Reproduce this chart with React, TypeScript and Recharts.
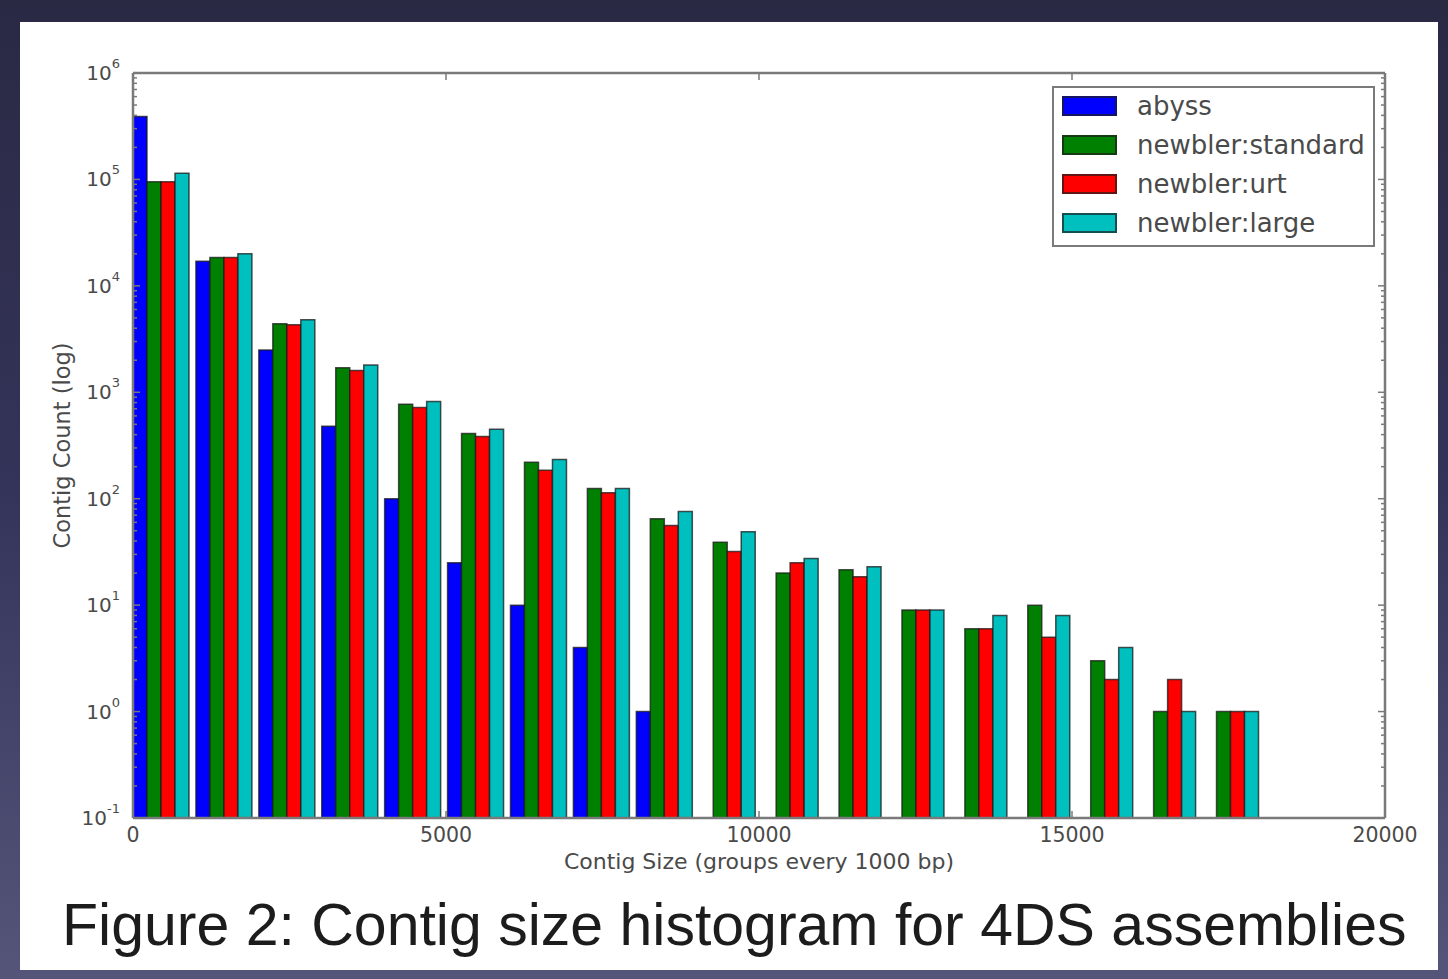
import React from 'react';
import { ComposedChart, Bar, XAxis, YAxis, Legend } from 'recharts';

// ---- data ----
const binIndex = [0, 1, 2, 3, 4, 5, 6, 7, 8, 9, 10, 11, 12, 13, 14, 15, 16, 17];
const BIN_WIDTH = 1005; // bp per histogram group
const abyss = [390000, 17000, 2500, 480, 100, 25, 10, 4, 1, null, null, null, null, null, null, null, null, null];
const newblerStandard = [95000, 18500, 4400, 1700, 770, 410, 220, 125, 65, 39, 20, 21.5, 9, 6, 10, 3, 1, 1];
const newblerUrt = [95000, 18500, 4300, 1600, 720, 385, 185, 114, 56, 32, 25, 18.5, 9, 6, 5, 2, 2, 1];
const newblerLarge = [114000, 20000, 4800, 1800, 820, 450, 234, 125, 76, 49, 27.5, 23, 9, 8, 8, 4, 1, 1];

const xTicks = [0, 5000, 10000, 15000, 20000];
const yMajor = [0.1, 1, 10, 100, 1000, 10000, 100000, 1000000];
const yMinor: number[] = [];
for (let k = -1; k <= 5; k++) for (let m = 2; m <= 9; m++) yMinor.push(m * Math.pow(10, k));
const yTicks = [...yMajor, ...yMinor].sort((a, b) => a - b);

const series = [
  { key: 'abyss', name: 'abyss', color: '#0000ff' },
  { key: 'standard', name: 'newbler:standard', color: '#008000' },
  { key: 'urt', name: 'newbler:urt', color: '#ff0000' },
  { key: 'large', name: 'newbler:large', color: '#00bfbf' },
];

const data = binIndex.map((i) => ({
  x: i * BIN_WIDTH + 0.43 * BIN_WIDTH,
  abyss: abyss[i],
  standard: newblerStandard[i],
  urt: newblerUrt[i],
  large: newblerLarge[i],
}));

const FONT = 'DejaVu Sans, sans-serif';
const SPINE = '#7a7a7a';
const TXT = '#4a4a4a';

const isMajor = (v: number) => Math.abs(Math.log10(v) - Math.round(Math.log10(v))) < 1e-9;

const YTickLeft = (props: any) => {
  const { x, y, payload } = props;
  const v = payload.value;
  const major = isMajor(v);
  const exp = Math.round(Math.log10(v));
  return (
    <g>
      <line x1={x} x2={x + (major ? 7 : 4)} y1={y} y2={y} stroke={SPINE} strokeWidth={1.5} />
      {major && (
        <text x={x - 13} y={y + 7} textAnchor="end" fontFamily={FONT} fontSize={20} fill={TXT}>
          10<tspan dy={-12} fontSize={13}>{exp}</tspan>
        </text>
      )}
    </g>
  );
};

const YTickRight = (props: any) => {
  const { x, y, payload } = props;
  const major = isMajor(payload.value);
  return <line x1={x} x2={x - (major ? 7 : 4)} y1={y} y2={y} stroke={SPINE} strokeWidth={1.5} />;
};

const XTickBottom = (props: any) => {
  const { x, y, payload } = props;
  return (
    <g>
      <line x1={x} x2={x} y1={y} y2={y - 7} stroke={SPINE} strokeWidth={1.5} />
      <text x={x} y={y + 24} textAnchor="middle" fontFamily={FONT} fontSize={20.5} fill={TXT}>
        {payload.value}
      </text>
    </g>
  );
};

const XTickTop = (props: any) => {
  const { x, y } = props;
  return <line x1={x} x2={x} y1={y} y2={y + 7} stroke={SPINE} strokeWidth={1.5} />;
};

const LegendBox = () => (
  <div
    style={{
      width: 323,
      height: 161,
      boxSizing: 'border-box',
      border: `2.5px solid ${SPINE}`,
      background: '#fff',
      paddingTop: 0,
    }}
  >
    {series.map((s) => (
      <div key={s.key} style={{ display: 'flex', alignItems: 'center', height: 39, marginTop: s.key === 'abyss' ? -2 : 0 }}>
        <div
          style={{
            marginLeft: 8,
            width: 55,
            height: 20,
            boxSizing: 'border-box',
            background: s.color,
            border: '2px solid rgba(30,30,30,0.7)',
          }}
        />
        <span style={{ marginLeft: 20, fontFamily: FONT, fontSize: 26, color: TXT, lineHeight: '26px' }}>
          {s.name}
        </span>
      </div>
    ))}
  </div>
);

export default function App() {
  return (
    <div
      style={{
        position: 'absolute',
        left: 0,
        top: 0,
        width: 1448,
        height: 979,
        overflow: 'hidden',
        background: 'linear-gradient(180deg, #2a2944 0%, #34345a 50%, #55557a 100%)',
      }}
    >
      <div style={{ position: 'absolute', left: 20, top: 22, width: 1418, height: 948, background: '#fff' }} />
      <div style={{ position: 'absolute', left: 0, top: 0 }}>
        <ComposedChart
          width={1448}
          height={979}
          data={data}
          margin={{ top: 63, right: 3, bottom: 131, left: 33 }}
          barCategoryGap="7%"
          barGap={0}
        >
          <XAxis
            xAxisId="bottom"
            dataKey="x"
            type="number"
            domain={[0, 20000]}
            allowDataOverflow
            ticks={xTicks}
            interval={0}
            height={30}
            tickSize={0}
            tickMargin={0}
            tickLine={false}
            axisLine={{ stroke: SPINE, strokeWidth: 2.5 }}
            tick={<XTickBottom />}
            label={{
              content: (p: any) => {
                const vb = p.viewBox || {};
                return (
                  <text
                    x={vb.x + vb.width / 2}
                    y={vb.y + 51}
                    textAnchor="middle"
                    fontFamily={FONT}
                    fontSize={22}
                    fill={TXT}
                  >
                    Contig Size (groups every 1000 bp)
                  </text>
                );
              },
            }}
          />
          <XAxis
            xAxisId="top"
            orientation="top"
            dataKey="x"
            type="number"
            domain={[0, 20000]}
            allowDataOverflow
            ticks={xTicks}
            interval={0}
            height={10}
            tickSize={0}
            tickMargin={0}
            tickLine={false}
            axisLine={{ stroke: SPINE, strokeWidth: 2.5 }}
            tick={<XTickTop />}
          />
          <YAxis
            yAxisId="left"
            type="number"
            scale="log"
            domain={[0.1, 1000000]}
            allowDataOverflow
            ticks={yTicks}
            interval={0}
            width={100}
            tickSize={0}
            tickMargin={0}
            tickLine={false}
            axisLine={{ stroke: SPINE, strokeWidth: 2.5 }}
            tick={<YTickLeft />}
            label={{
              content: (p: any) => {
                const vb = p.viewBox || {};
                const cx = vb.x + 29;
                const cy = vb.y + vb.height / 2;
                return (
                  <text
                    x={cx}
                    y={cy}
                    transform={`rotate(-90, ${cx}, ${cy})`}
                    textAnchor="middle"
                    dominantBaseline="central"
                    fontFamily={FONT}
                    fontSize={22.5}
                    fill={TXT}
                  >
                    Contig Count (log)
                  </text>
                );
              },
            }}
          />
          <YAxis
            yAxisId="right"
            orientation="right"
            type="number"
            scale="log"
            domain={[0.1, 1000000]}
            allowDataOverflow
            ticks={yTicks}
            interval={0}
            width={60}
            tickSize={0}
            tickMargin={0}
            tickLine={false}
            axisLine={{ stroke: SPINE, strokeWidth: 2.5 }}
            tick={<YTickRight />}
          />
          <Legend
            layout="horizontal"
            verticalAlign="middle"
            align="center"
            content={<LegendBox />}
            wrapperStyle={{ position: 'absolute', left: 1052, top: 86, width: 323, height: 161 }}
          />
          {series.map((s) => (
            <Bar
              key={s.key}
              dataKey={s.key}
              name={s.name}
              xAxisId="bottom"
              yAxisId="left"
              fill={s.color}
              stroke="rgba(25,25,25,0.75)"
              strokeWidth={1.5}
              isAnimationActive={false}
            />
          ))}
        </ComposedChart>
      </div>
      <svg width={1448} height={979} style={{ position: 'absolute', left: 0, top: 0, pointerEvents: 'none' }}>
        <text x={62} y={945} fontFamily="Liberation Sans, Arial, sans-serif" fontSize={59} fill="#1c1c1c">
          Figure 2: Contig size histogram for 4DS assemblies
        </text>
      </svg>
    </div>
  );
}
